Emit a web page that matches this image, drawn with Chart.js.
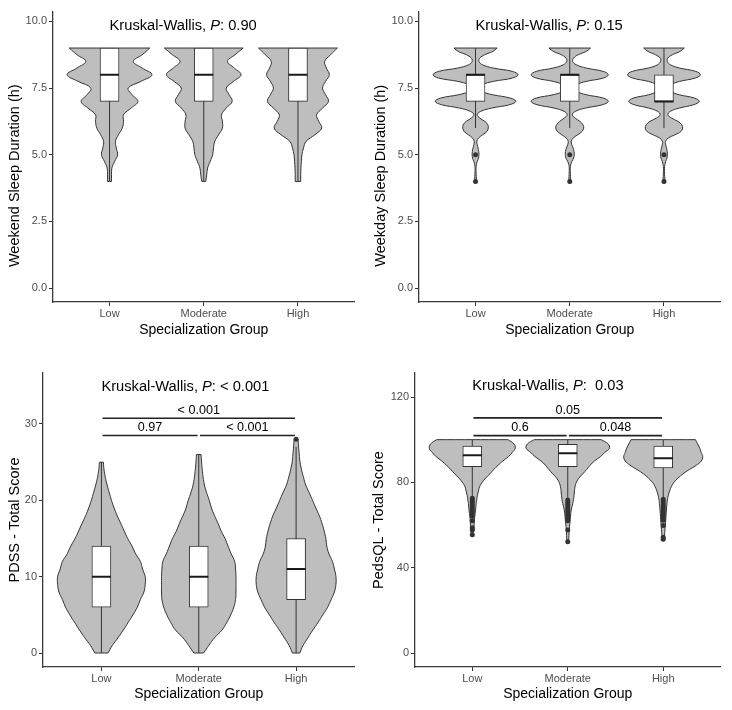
<!DOCTYPE html>
<html>
<head>
<meta charset="utf-8">
<script src="https://cdn.jsdelivr.net/npm/chart.js@4.4.1/dist/chart.umd.min.js"></script>
<style>
  html, body { margin: 0; padding: 0; background: #fff; }
  #wrap { position: relative; width: 732px; height: 710px; }
  canvas { position: absolute; }
</style>
</head>
<body>
<div id="wrap">
  <canvas id="weekend" width="366" height="340" style="left:0;top:0"></canvas>
  <canvas id="weekday" width="366" height="340" style="left:366px;top:0"></canvas>
  <canvas id="pdss" width="366" height="370" style="left:0;top:340px"></canvas>
  <canvas id="pedsql" width="366" height="370" style="left:366px;top:340px"></canvas>
</div>
<script>
const groups = ['Low', 'Moderate', 'High'];

// --- violin outlines: half width relative to the widest violin, read top to bottom ---
const weekendLevels = [9, 8.75, 8.5, 8.25, 8, 7.75, 7.5, 7.25, 7, 6.75, 6.5, 6.25, 6, 5.75, 5.5, 5.25, 5, 4.75, 4.5, 4.25, 4];
const weekendLow  = [0.95, 0.77, 0.56, 0.77, 1.0, 0.74, 0.44, 0.53, 0.67, 0.51, 0.33, 0.33, 0.30, 0.21, 0.14, 0.16, 0.19, 0.12, 0.055, 0.047, 0.047];
const weekendMod  = [0.93, 0.74, 0.56, 0.72, 0.88, 0.70, 0.53, 0.60, 0.67, 0.53, 0.42, 0.44, 0.44, 0.35, 0.26, 0.23, 0.21, 0.15, 0.09, 0.07, 0.047];
const weekendHigh = [0.93, 0.77, 0.63, 0.67, 0.74, 0.65, 0.58, 0.65, 0.72, 0.58, 0.44, 0.49, 0.56, 0.40, 0.19, 0.13, 0.093, 0.08, 0.07, 0.065, 0.065];

const weekdayLevels = [9, 8.875, 8.75, 8.625, 8.5, 8.375, 8.25, 8.125, 8, 7.875, 7.75, 7.625, 7.5, 7.375, 7.25, 7.125, 7,
    6.875, 6.75, 6.625, 6.5, 6.375, 6.25, 6.125, 6, 5.875, 5.75, 5.625, 5.5, 5.375, 5.25, 5.125, 5,
    4.875, 4.75, 4.625, 4.5, 4.375, 4.25, 4.125, 4];
const weekdayLow = [0.51, 0.41, 0.22, 0.10, 0.08, 0.16, 0.42, 0.87, 1.0, 0.87, 0.42, 0.16, 0.10, 0.15, 0.40, 0.82, 0.95,
    0.80, 0.38, 0.12, 0.04, 0.10, 0.22, 0.29, 0.30, 0.27, 0.17, 0.07, 0.03, 0.04, 0.06, 0.075, 0.08,
    0.07, 0.04, 0.02, 0.01, 0.012, 0.015, 0.02, 0.023];
const weekdayMod = [0.49, 0.39, 0.20, 0.09, 0.07, 0.15, 0.39, 0.79, 0.91, 0.79, 0.39, 0.16, 0.12, 0.16, 0.39, 0.79, 0.91,
    0.77, 0.37, 0.13, 0.06, 0.13, 0.24, 0.31, 0.33, 0.29, 0.19, 0.08, 0.035, 0.05, 0.08, 0.10, 0.105,
    0.09, 0.05, 0.02, 0.012, 0.013, 0.015, 0.02, 0.023];
const weekdayHigh = [0.48, 0.38, 0.20, 0.09, 0.08, 0.15, 0.37, 0.75, 0.86, 0.74, 0.37, 0.17, 0.14, 0.17, 0.36, 0.72, 0.83,
    0.70, 0.36, 0.15, 0.09, 0.18, 0.33, 0.42, 0.44, 0.40, 0.26, 0.10, 0.035, 0.04, 0.06, 0.075, 0.08,
    0.07, 0.04, 0.02, 0.012, 0.013, 0.015, 0.02, 0.023];

const pdssLevels = [28, 27, 26, 25, 24, 23, 22, 21, 20, 19, 18, 17, 16, 15, 14, 13, 12, 11, 10, 9, 8, 7, 6, 5, 4, 3, 2, 1, 0];
const pdssLow  = [null, null, null, 0.045, 0.06, 0.09, 0.13, 0.18, 0.23, 0.29, 0.36, 0.44, 0.52, 0.60, 0.70, 0.78, 0.89, 0.94, 1.0, 1.0, 0.97, 0.89, 0.82, 0.72, 0.61, 0.50, 0.38, 0.25, 0.15];
const pdssMod  = [null, null, 0.052, 0.064, 0.08, 0.10, 0.13, 0.18, 0.24, 0.29, 0.36, 0.44, 0.51, 0.60, 0.67, 0.74, 0.82, 0.84, 0.85, 0.85, 0.85, 0.84, 0.80, 0.73, 0.64, 0.53, 0.36, 0.23, 0.11];
const pdssHigh = [0.045, 0.057, 0.073, 0.09, 0.125, 0.17, 0.22, 0.30, 0.375, 0.45, 0.53, 0.59, 0.64, 0.68, 0.70, 0.75, 0.83, 0.875, 0.91, 0.91, 0.875, 0.80, 0.72, 0.61, 0.50, 0.38, 0.27, 0.16, 0.084];

const pedsqlLevels = [100, 98, 96, 94, 92, 90, 88, 86, 84, 82, 80, 78, 76, 74, 72, 70, 67, 64, 61, 58, 55, 53, 52];
const pedsqlLow  = [0.83, 0.97, 1.0, 0.93, 0.84, 0.71, 0.60, 0.50, 0.41, 0.31, 0.23, 0.17, 0.145, 0.12, 0.105, 0.09, 0.076, 0.057, 0.046, 0.034, 0.023, null, null];
const pedsqlMod  = [0.78, 0.94, 0.97, 0.86, 0.76, 0.62, 0.52, 0.44, 0.35, 0.26, 0.20, 0.17, 0.156, 0.147, 0.133, 0.115, 0.08, 0.064, 0.05, 0.034, 0.028, 0.023, 0.023];
const pedsqlHigh = [0.75, 0.80, 0.85, 0.885, 0.92, 0.885, 0.77, 0.61, 0.46, 0.345, 0.25, 0.19, 0.15, 0.12, 0.10, 0.087, 0.074, 0.064, 0.053, 0.041, 0.03, 0.023, null];

// --- box plot statistics (Low, Moderate, High) ---
const weekendQ1 = [7, 7, 7], weekendMed = [8, 8, 8], weekendQ3 = [9, 9, 9];
const weekendLo = [4, 4, 4], weekendHi = [9, 9, 9];
const weekendOut = [[], [], []];

const weekdayQ1 = [7, 7, 7], weekdayMed = [8, 8, 7], weekdayQ3 = [8, 8, 8];
const weekdayLo = [6, 6, 6], weekdayHi = [9, 9, 9];
const weekdayOut = [[5, 4], [5, 4], [5, 4]];

const pdssQ1 = [6, 6, 7], pdssMed = [10, 10, 11], pdssQ3 = [14, 14, 15];
const pdssLo = [0, 0, 0], pdssHi = [25, 26, 27];
const pdssOut = [[], [], [28]];

const pedsqlQ1 = [87.3, 87.3, 86.8], pedsqlMed = [92.7, 93.6, 91.3], pedsqlQ3 = [97, 97.8, 97];
const pedsqlLo = [73, 72.8, 73], pedsqlHi = [100, 100, 100];
const pedsqlOut = [
    [72.5, 71.7, 70.7, 69.6, 68.5, 67.4, 66.3, 65.2, 64.1, 62, 58.7, 57.6, 55.4],
    [71.7, 70.7, 69.6, 68.5, 67.4, 66.3, 65.2, 64.1, 63, 62, 57.6, 52.2],
    [72.1, 71, 69.9, 68.8, 67.7, 66.6, 65.5, 64.4, 63.3, 62.2, 59.8, 54.3, 53.3]
];

// --- test results ---
const kwP = ['0.90', '0.15', '< 0.001', ' 0.03'];
const pairs = [[1, 2], [2, 3], [1, 3]];
const pdssPairY = [28.5, 28.5, 30.75];
const pdssPairP = ['0.97', '< 0.001', '< 0.001'];
const pedsqlPairY = [101.9, 101.9, 110.2];
const pedsqlPairP = ['0.6', '0.048', '0.05'];

// --- tick values ---
const sleepTicks = [0, 2.5, 5, 7.5, 10];
const pdssTicks = [0, 10, 20, 30];
const pedsqlTicks = [0, 40, 80, 120];

const FONT = '"Liberation Sans", Arial, sans-serif';
const VIOLIN_HALF = 0.45;
const INK = '#333';

Chart.defaults.font.family = FONT;
Chart.defaults.color = '#4d4d4d';

// right side top->bottom, then left side bottom->top; corners doubled so they stay sharp
function violinPath(levels, rel, pos) {
    const right = [], left = [];
    levels.forEach((y, i) => {
        if (rel[i] == null) return;
        const dx = rel[i] * VIOLIN_HALF;
        right.push({ x: pos + dx, y: y });
        left.unshift({ x: pos - dx, y: y });
    });
    const r0 = right[0], rn = right[right.length - 1];
    const ln = left[0], l0 = left[left.length - 1];
    return [...right, rn, ln, ...left, l0, r0, r0];
}

function annotations(p) {
    return {
        id: 'annotations',
        afterDatasetsDraw(chart) {
            const { ctx, chartArea, scales: { x, y } } = chart;
            ctx.save();
            ctx.fillStyle = '#000';
            ctx.textBaseline = 'middle';
            ctx.textAlign = 'left';

            // Kruskal-Wallis label starts at the first group
            let px = x.getPixelForValue(1);
            const py = y.getPixelForValue(p.kwY);
            [['Kruskal-Wallis, ', ''], ['P', 'italic '], [': ' + p.kw, '']].forEach(([t, st]) => {
                ctx.font = st + '14.7px ' + FONT;
                ctx.fillText(t, px, py);
                px += ctx.measureText(t).width;
            });

            // pairwise p-values above the brackets
            if (p.pairY) {
                ctx.font = '12.6px ' + FONT;
                ctx.textAlign = 'center';
                pairs.forEach(([a, b], i) => {
                    const cx = x.getPixelForValue((a + b) / 2);
                    ctx.fillText(p.pairP[i], cx, y.getPixelForValue(p.pairY[i]) - 7.6);
                });
            }

            // y axis title
            ctx.font = '14.5px ' + FONT;
            ctx.textAlign = 'center';
            ctx.translate(p.yTitleX, (chartArea.top + chartArea.bottom) / 2 + p.yTitleShift);
            ctx.rotate(-Math.PI / 2);
            ctx.fillText(p.yTitle, 0, 0);
            ctx.restore();
        }
    };
}

function buildPanel(p) {
    const datasets = [];

    p.widths.forEach((w, g) => {
        datasets.push({
            data: violinPath(p.levels, w, g + 1),
            fill: 'shape',
            backgroundColor: '#bebebe',
            borderColor: INK,
            borderWidth: 1,
            pointRadius: 0,
            tension: 0.4,
            order: 6
        });
    });

    datasets.push({
        data: groups.flatMap((_, i) => [{ x: i + 1, y: p.lo[i] }, { x: i + 1, y: p.hi[i] }, { x: i + 1, y: null }]),
        borderColor: INK,
        borderWidth: 1,
        pointRadius: 0,
        order: 5
    });

    datasets.push({
        type: 'bar',
        data: groups.map((_, i) => ({ x: i + 1, y: [p.q1[i], p.q3[i]] })),
        backgroundColor: '#fff',
        borderColor: INK,
        borderWidth: 1,
        borderSkipped: false,
        barThickness: 19,
        order: 4
    });

    datasets.push({
        data: groups.map((_, i) => ({ x: i + 1, y: p.med[i] })),
        showLine: false,
        pointStyle: 'line',
        pointRadius: 9.5,
        pointBorderWidth: 2,
        pointBorderColor: '#1a1a1a',
        order: 3
    });

    datasets.push({
        data: p.out.flatMap((vals, i) => vals.map(v => ({ x: i + 1, y: v }))),
        showLine: false,
        pointRadius: 2.5,
        pointBackgroundColor: INK,
        pointBorderWidth: 0,
        order: 2
    });

    if (p.pairY) {
        datasets.push({
            data: pairs.flatMap(([a, b], i) => [
                { x: a + 0.012, y: p.pairY[i] }, { x: b - 0.012, y: p.pairY[i] }, { x: b, y: null }
            ]),
            borderColor: '#222',
            borderWidth: 1.6,
            pointRadius: 0,
            order: 1
        });
    }

    const grid = { drawOnChartArea: false, drawTicks: true, tickLength: 4, color: INK, lineWidth: 1, offset: false };
    const border = { color: '#3a3a3a', width: 1.3 };

    new Chart(document.getElementById(p.id), {
        type: 'line',
        data: { datasets },
        options: {
            responsive: false,
            animation: false,
            events: [],
            devicePixelRatio: 1,
            layout: { padding: { left: 0, right: 8, top: p.padTop, bottom: 0 } },
            plugins: { legend: { display: false }, tooltip: { enabled: false } },
            scales: {
                x: {
                    type: 'linear',
                    min: 0.4,
                    max: 3.6,
                    offset: false,
                    bounds: 'data',
                    afterFit: s => { s.height = p.xAxisHeight; },
                    afterBuildTicks: s => { s.ticks = groups.map((_, i) => ({ value: i + 1 })); },
                    ticks: {
                        callback: v => groups[v - 1],
                        autoSkip: false,
                        maxRotation: 0,
                        padding: 1,
                        color: '#4d4d4d',
                        font: { size: 11 }
                    },
                    grid,
                    border,
                    title: {
                        display: true,
                        text: 'Specialization Group',
                        color: '#000',
                        font: { size: 14 },
                        padding: { top: 0, bottom: p.xTitlePad }
                    }
                },
                y: {
                    type: 'linear',
                    min: p.yMin,
                    max: p.yMax,
                    offset: false,
                    bounds: 'data',
                    afterFit: s => { s.width = p.yAxisWidth; },
                    afterBuildTicks: s => { s.ticks = p.ticks.map(v => ({ value: v })); },
                    ticks: {
                        callback: v => v.toFixed(p.decimals),
                        padding: 2,
                        color: '#4d4d4d',
                        font: { size: 11 }
                    },
                    grid,
                    border
                }
            }
        },
        plugins: [annotations(p)]
    });
}

buildPanel({
    id: 'weekend', levels: weekendLevels, widths: [weekendLow, weekendMod, weekendHigh],
    q1: weekendQ1, med: weekendMed, q3: weekendQ3, lo: weekendLo, hi: weekendHi, out: weekendOut,
    kw: kwP[0], kwY: 9.83, yTitle: 'Weekend Sleep Duration (h)',
    yMin: -0.52, yMax: 10.37, ticks: sleepTicks, decimals: 1,
    padTop: 8, yAxisWidth: 53, xAxisHeight: 38, xTitlePad: 1.6, yTitleX: 15, yTitleShift: 19
});

buildPanel({
    id: 'weekday', levels: weekdayLevels, widths: [weekdayLow, weekdayMod, weekdayHigh],
    q1: weekdayQ1, med: weekdayMed, q3: weekdayQ3, lo: weekdayLo, hi: weekdayHi, out: weekdayOut,
    kw: kwP[1], kwY: 9.83, yTitle: 'Weekday Sleep Duration (h)',
    yMin: -0.52, yMax: 10.37, ticks: sleepTicks, decimals: 1,
    padTop: 8, yAxisWidth: 53, xAxisHeight: 38, xTitlePad: 1.6, yTitleX: 15, yTitleShift: 19
});

buildPanel({
    id: 'pdss', levels: pdssLevels, widths: [pdssLow, pdssMod, pdssHigh],
    q1: pdssQ1, med: pdssMed, q3: pdssQ3, lo: pdssLo, hi: pdssHi, out: pdssOut,
    kw: kwP[2], kwY: 34.9, yTitle: 'PDSS - Total Score',
    pairY: pdssPairY, pairP: pdssPairP,
    yMin: -1.83, yMax: 36.68, ticks: pdssTicks, decimals: 0,
    padTop: 33, yAxisWidth: 43, xAxisHeight: 43, xTitlePad: 7.3, yTitleX: 15, yTitleShift: 0
});

buildPanel({
    id: 'pedsql', levels: pedsqlLevels, widths: [pedsqlLow, pedsqlMod, pedsqlHigh],
    q1: pedsqlQ1, med: pedsqlMed, q3: pedsqlQ3, lo: pedsqlLo, hi: pedsqlHi, out: pedsqlOut,
    kw: kwP[3], kwY: 125.2, yTitle: 'PedsQL - Total Score',
    pairY: pedsqlPairY, pairP: pedsqlPairP,
    yMin: -6.56, yMax: 131.25, ticks: pedsqlTicks, decimals: 0,
    padTop: 33, yAxisWidth: 49, xAxisHeight: 43, xTitlePad: 7.3, yTitleX: 13, yTitleShift: 0
});
</script>
</body>
</html>
